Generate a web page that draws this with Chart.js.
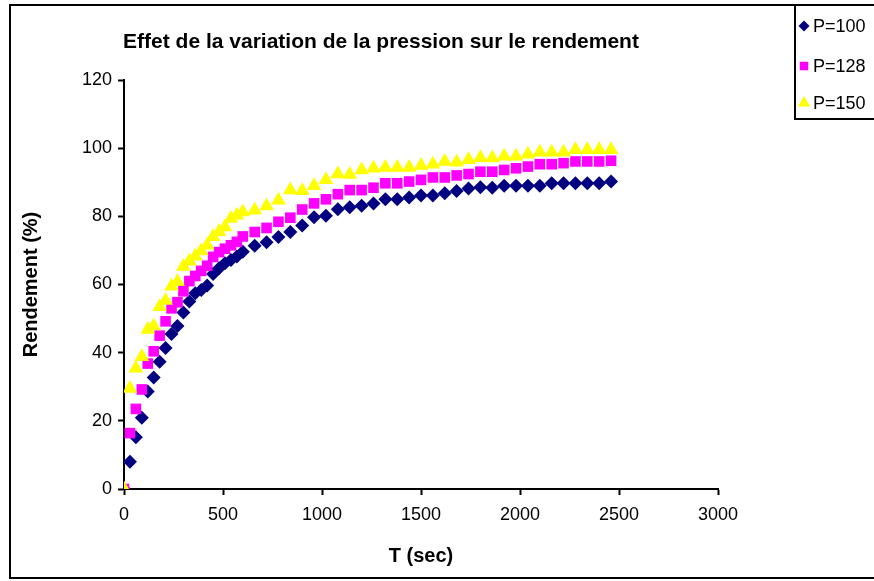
<!DOCTYPE html>
<html>
<head>
<meta charset="utf-8">
<script src="https://cdn.jsdelivr.net/npm/chart.js@4.4.0/dist/chart.umd.min.js"></script>
<style>
    html, body { margin: 0; padding: 0; background: #fff; }
</style>
</head>
<body>
<canvas id="rendementChart" width="874" height="581"></canvas>
<script>
// Temps (sec) : toutes les 30 s jusqu'a 600 s, puis toutes les 60 s
const temps = [0, 30, 60, 90, 120, 150, 180, 210, 240, 270, 300, 330, 360, 390, 420, 450, 480, 510, 540, 570, 600,
    660, 720, 780, 840, 900, 960, 1020, 1080, 1140, 1200, 1260, 1320, 1380, 1440, 1500, 1560, 1620, 1680, 1740, 1800,
    1860, 1920, 1980, 2040, 2100, 2160, 2220, 2280, 2340, 2400, 2460];

// Rendement (%) pour chaque pression
const rendementP100 = [0, 8.0, 15.2, 20.9, 28.6, 32.7, 37.3, 41.4, 45.5, 47.8, 51.8, 55.0, 57.4, 58.4, 59.7, 63.1, 64.8, 66.2, 67.2, 68.2, 69.6,
    71.4, 72.4, 73.9, 75.4, 77.3, 79.7, 80.2, 82.1, 82.7, 83.1, 83.8, 85.0, 85.0, 85.5, 86.1, 86.1, 86.8, 87.4, 88.2, 88.5,
    88.4, 89.0, 89.0, 89.0, 89.0, 89.7, 89.7, 89.7, 89.7, 89.7, 90.2];
const rendementP128 = [0, 16.4, 23.5, 29.2, 36.8, 40.4, 45.0, 49.2, 53.0, 54.8, 58.0, 61.0, 62.5, 64.0, 65.5, 68.1, 69.5, 70.5, 71.5, 72.5, 74.1,
    75.4, 76.6, 78.4, 79.6, 82.0, 83.8, 85.0, 86.5, 87.7, 87.7, 88.4, 89.7, 89.7, 90.2, 90.7, 91.4, 91.4, 92.0, 92.4, 93.1,
    93.1, 93.6, 94.1, 94.6, 95.3, 95.3, 95.6, 96.1, 96.1, 96.1, 96.3];
const rendementP150 = [0, 29.5, 35.4, 38.8, 46.8, 47.8, 53.5, 55.3, 59.5, 60.8, 65.3, 66.8, 68.3, 69.8, 71.5, 74.0, 75.5, 76.9, 79.4, 80.3, 81.3,
    81.8, 83.0, 84.7, 87.7, 87.5, 89.0, 90.7, 92.4, 92.3, 93.6, 94.1, 94.3, 94.3, 94.3, 94.9, 95.3, 96.1, 95.9, 96.6, 97.2,
    97.1, 97.6, 97.6, 98.2, 98.8, 98.8, 98.8, 99.5, 99.5, 99.5, 99.5];

const seriesLabels = ['P=100', 'P=128', 'P=150'];
const seriesColors = ['#000080', '#FF00FF', '#FFFF00'];
const seriesStyles = ['rectRot', 'rect', 'triangle'];
const seriesRadius = [7, 7.5, 8.5];
const legendRadius = [5.5, 6, 7];

const chartTitle = 'Effet de la variation de la pression sur le rendement';
const xTitle = 'T (sec)';
const yTitle = 'Rendement (%)';

const toPoints = (values) => temps.map((t, i) => ({ x: t, y: values[i] }));
const allValues = [rendementP100, rendementP128, rendementP150];

// cadre, titres et legende facon Excel
const excelFrame = {
    id: 'excelFrame',
    beforeDraw(chart) {
        const ctx = chart.ctx;
        ctx.save();
        ctx.fillStyle = '#fff';
        ctx.fillRect(0, 0, chart.width, chart.height);
        ctx.strokeStyle = '#000';
        ctx.lineWidth = 2;
        ctx.strokeRect(10, 5, 900, 573);
        ctx.restore();
    },
    afterDraw(chart) {
        const ctx = chart.ctx;
        const area = chart.chartArea;
        ctx.save();
        ctx.fillStyle = '#000';
        ctx.textAlign = 'center';
        ctx.textBaseline = 'middle';
        ctx.font = 'bold 21px "Liberation Sans", Arial, sans-serif';
        ctx.fillText(chartTitle, 381, 42);
        ctx.font = 'bold 20px "Liberation Sans", Arial, sans-serif';
        ctx.fillText(xTitle, (area.left + area.right) / 2, 556);
        ctx.save();
        ctx.translate(31, (area.top + area.bottom) / 2);
        ctx.rotate(-Math.PI / 2);
        ctx.fillText(yTitle, 0, 0);
        ctx.restore();

        // legende
        ctx.strokeStyle = '#000';
        ctx.lineWidth = 2;
        ctx.fillStyle = '#fff';
        ctx.fillRect(795, 5, 100, 114);
        ctx.strokeRect(795, 5, 100, 114);
        const rows = [26, 66, 103];
        ctx.font = '18px "Liberation Sans", Arial, sans-serif';
        ctx.textAlign = 'left';
        chart.data.datasets.forEach((ds, i) => {
            ctx.fillStyle = ds.backgroundColor;
            Chart.helpers.drawPoint(ctx, {
                pointStyle: ds.pointStyle,
                radius: legendRadius[i],
                rotation: 0,
                borderWidth: 0
            }, 804, rows[i]);
            ctx.fillStyle = '#000';
            ctx.fillText(ds.label, 813, rows[i] + 1);
        });
        ctx.restore();
    }
};

const ctx = document.getElementById('rendementChart').getContext('2d');
const rendementChart = new Chart(ctx, {
    type: 'scatter',
    data: {
        datasets: seriesLabels.map((label, i) => ({
            label: label,
            data: toPoints(allValues[i]),
            backgroundColor: seriesColors[i],
            borderColor: seriesColors[i],
            borderWidth: 0,
            pointStyle: seriesStyles[i],
            pointRadius: seriesRadius[i],
            order: 3 - i // P=150 au dessus
        }))
    },
    options: {
        responsive: false,
        animation: false,
        layout: {
            padding: { top: 80, right: 156, left: 0, bottom: 0 }
        },
        plugins: {
            legend: { display: false },
            tooltip: { enabled: false }
        },
        scales: {
            x: {
                type: 'linear',
                min: 0,
                max: 3000,
                afterFit: (scale) => { scale.height = 92; },
                ticks: {
                    stepSize: 500,
                    color: '#000',
                    padding: 9,
                    maxRotation: 0,
                    callback: (value) => String(value), // pas de separateur de milliers
                    font: { family: '"Liberation Sans", Arial, sans-serif', size: 18 }
                },
                grid: { drawOnChartArea: false, drawTicks: true, tickLength: 6, tickColor: '#000', tickWidth: 2 },
                border: { display: true, color: '#000', width: 2 }
            },
            y: {
                min: 0,
                max: 120,
                afterFit: (scale) => { scale.width = 124; },
                ticks: {
                    stepSize: 20,
                    color: '#000',
                    padding: 6,
                    font: { family: '"Liberation Sans", Arial, sans-serif', size: 18 }
                },
                grid: { drawOnChartArea: false, drawTicks: true, tickLength: 6, tickColor: '#000', tickWidth: 2 },
                border: { display: true, color: '#000', width: 2 }
            }
        }
    },
    plugins: [excelFrame]
});
</script>
</body>
</html>
